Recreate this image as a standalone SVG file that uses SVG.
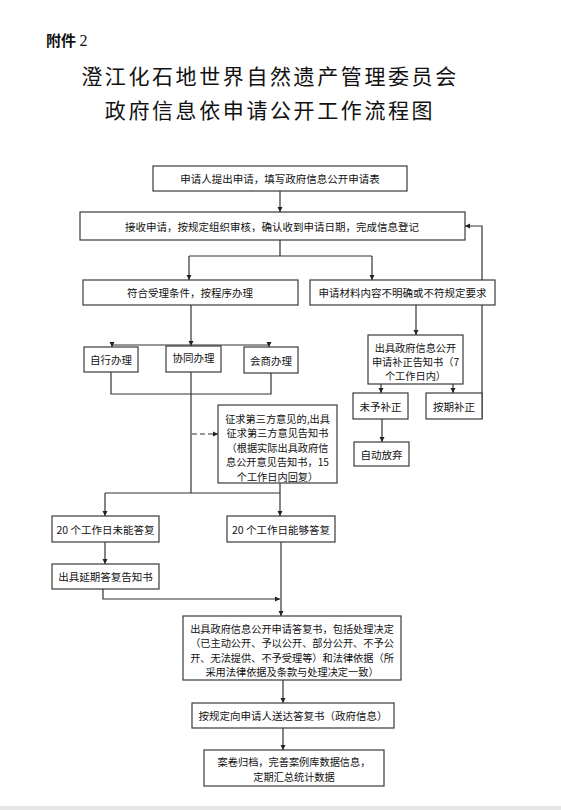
<svg xmlns="http://www.w3.org/2000/svg" width="561" height="810" viewBox="0 0 561 810">
<style>
.b{fill:#fff;stroke:#3a3a3a;stroke-width:1.2}
.t{font-family:"Noto Sans CJK SC","Liberation Sans",sans-serif;font-size:10.5px;fill:#111;text-anchor:middle;dominant-baseline:central}
.s{font-size:10.2px}
.c{fill:none;stroke:#333;stroke-width:1.2}
.a{marker-end:url(#ah)}
.d{stroke-dasharray:5,3}
.ttl{font-family:"Noto Sans CJK SC",sans-serif;font-size:21px;fill:#111;text-anchor:middle;letter-spacing:2.6px}
</style>
<defs>
<marker id="ah" markerUnits="userSpaceOnUse" markerWidth="6" markerHeight="6" refX="5" refY="3" orient="auto">
<path d="M0,0.5 L5,3 L0,5.5 z" fill="#222"/>
</marker>
</defs>
<rect width="561" height="810" fill="#fff"/>
<rect x="0" y="806" width="561" height="4" fill="#e6e6e6"/>
<text x="46" y="46" font-family="Noto Sans CJK SC,sans-serif" font-size="15" font-weight="bold" fill="#111">附件 <tspan font-family="Liberation Serif,serif" font-weight="normal" font-size="16">2</tspan></text>
<text class="ttl" x="270" y="84">澄江化石地世界自然遗产管理委员会</text>
<text class="ttl" x="270" y="118">政府信息依申请公开工作流程图</text>

<g id="connectors">
<path class="c a" d="M280,191 V212"/>
<path class="c" d="M280,240 V256 M189,256 H372"/>
<path class="c a" d="M189,256 V280"/>
<path class="c a" d="M372,256 V280"/>
<path class="c a" d="M482,419 V226 H465"/>
<path class="c a" d="M416,305 V335"/>
<path class="c a" d="M381,371 V393"/>
<path class="c a" d="M453,371 V393"/>
<path class="c a" d="M382,419 V442"/>
<path class="c a" d="M191,305 V346"/>
<path class="c" d="M112,345 H269"/>
<path class="c a" d="M112,343 V347"/>
<path class="c a" d="M269,343 V347"/>
<path class="c" d="M111,372 V394 H271 V373"/>
<path class="c" d="M191,372 V493"/>
<path class="c a d" d="M192,434 H218"/>
<path class="c" d="M105,493 H280"/>
<path class="c a" d="M105,493 V516"/>
<path class="c a" d="M280,483 V516"/>
<path class="c a" d="M105,542 V564"/>
<path class="c a" d="M103,589 V599 H280"/>
<path class="c a" d="M281,542 V616"/>
<path class="c a" d="M283,680 V703"/>
<path class="c a" d="M283,728 V750"/>
</g>

<g id="n1"><rect class="b" x="153" y="166" width="254" height="25"/><text class="t" x="280" y="178.5">申请人提出申请，填写政府信息公开申请表</text></g>
<g id="n2"><rect class="b" x="80" y="212" width="385" height="28"/><text class="t" x="272" y="226">接收申请，按规定组织审核，确认收到申请日期，完成信息登记</text></g>
<g id="n3"><rect class="b" x="83" y="280" width="215" height="25"/><text class="t" x="190" y="292.5">符合受理条件，按程序办理</text></g>
<g id="n4"><rect class="b" x="310" y="280" width="185" height="25"/><text class="t" x="402.5" y="292.5">申请材料内容不明确或不符规定要求</text></g>
<g id="n5"><rect class="b" x="84" y="347" width="54" height="25"/><text class="t" x="111" y="359.5">自行办理</text></g>
<g id="n6"><rect class="b" x="166" y="346" width="55" height="26"/><text class="t" x="193.5" y="357.5">协同办理</text></g>
<g id="n7"><rect class="b" x="244" y="347" width="54" height="26"/><text class="t" x="271" y="360">会商办理</text></g>
<g id="n8"><rect class="b" x="368" y="335" width="95" height="49"/>
<text class="t s" x="415.5" y="347">出具政府信息公开</text>
<text class="t s" x="415.5" y="361">申请补正告知书（7</text>
<text class="t s" x="415.5" y="375">个工作日内）</text></g>
<g id="n9"><rect class="b" x="353" y="393" width="55" height="26"/><text class="t" x="380.5" y="406">未予补正</text></g>
<g id="n10"><rect class="b" x="426" y="393" width="56" height="26"/><text class="t" x="454" y="406">按期补正</text></g>
<g id="n11"><rect class="b" x="354" y="442" width="55" height="24"/><text class="t" x="381.5" y="454">自动放弃</text></g>
<g id="n12"><rect class="b" x="218" y="405" width="119" height="78"/>
<text class="t s" x="277.5" y="418">征求第三方意见的,出具</text>
<text class="t s" x="277.5" y="432.5">征求第三方意见告知书</text>
<text class="t s" x="277.5" y="447">（根据实际出具政府信</text>
<text class="t s" x="277.5" y="461.5">息公开意见告知书，15</text>
<text class="t s" x="277.5" y="476">个工作日内回复）</text></g>
<g id="n13"><rect class="b" x="52" y="516" width="107" height="26"/><text class="t" x="105.5" y="529">20 个工作日未能答复</text></g>
<g id="n14"><rect class="b" x="227" y="516" width="108" height="26"/><text class="t" x="281" y="529">20 个工作日能够答复</text></g>
<g id="n15"><rect class="b" x="52" y="564" width="107" height="25"/><text class="t" x="105.5" y="576.5">出具延期答复告知书</text></g>
<g id="n16"><rect class="b" x="183" y="616" width="218" height="64"/>
<text class="t s" x="292" y="628">出具政府信息公开申请答复书，包括处理决定</text>
<text class="t s" x="292" y="642.5">（已主动公开、予以公开、部分公开、不予公</text>
<text class="t s" x="292" y="657">开、无法提供、不予受理等）和法律依据（所</text>
<text class="t s" x="292" y="671.5">采用法律依据及条款与处理决定一致）</text></g>
<g id="n17"><rect class="b" x="192" y="703" width="202" height="25"/><text class="t" x="293" y="715.5">按规定向申请人送达答复书（政府信息）</text></g>
<g id="n18"><rect class="b" x="204" y="750" width="180" height="36"/>
<text class="t s" x="294" y="761">案卷归档，完善案例库数据信息，</text>
<text class="t s" x="294" y="776">定期汇总统计数据</text></g>
</svg>
